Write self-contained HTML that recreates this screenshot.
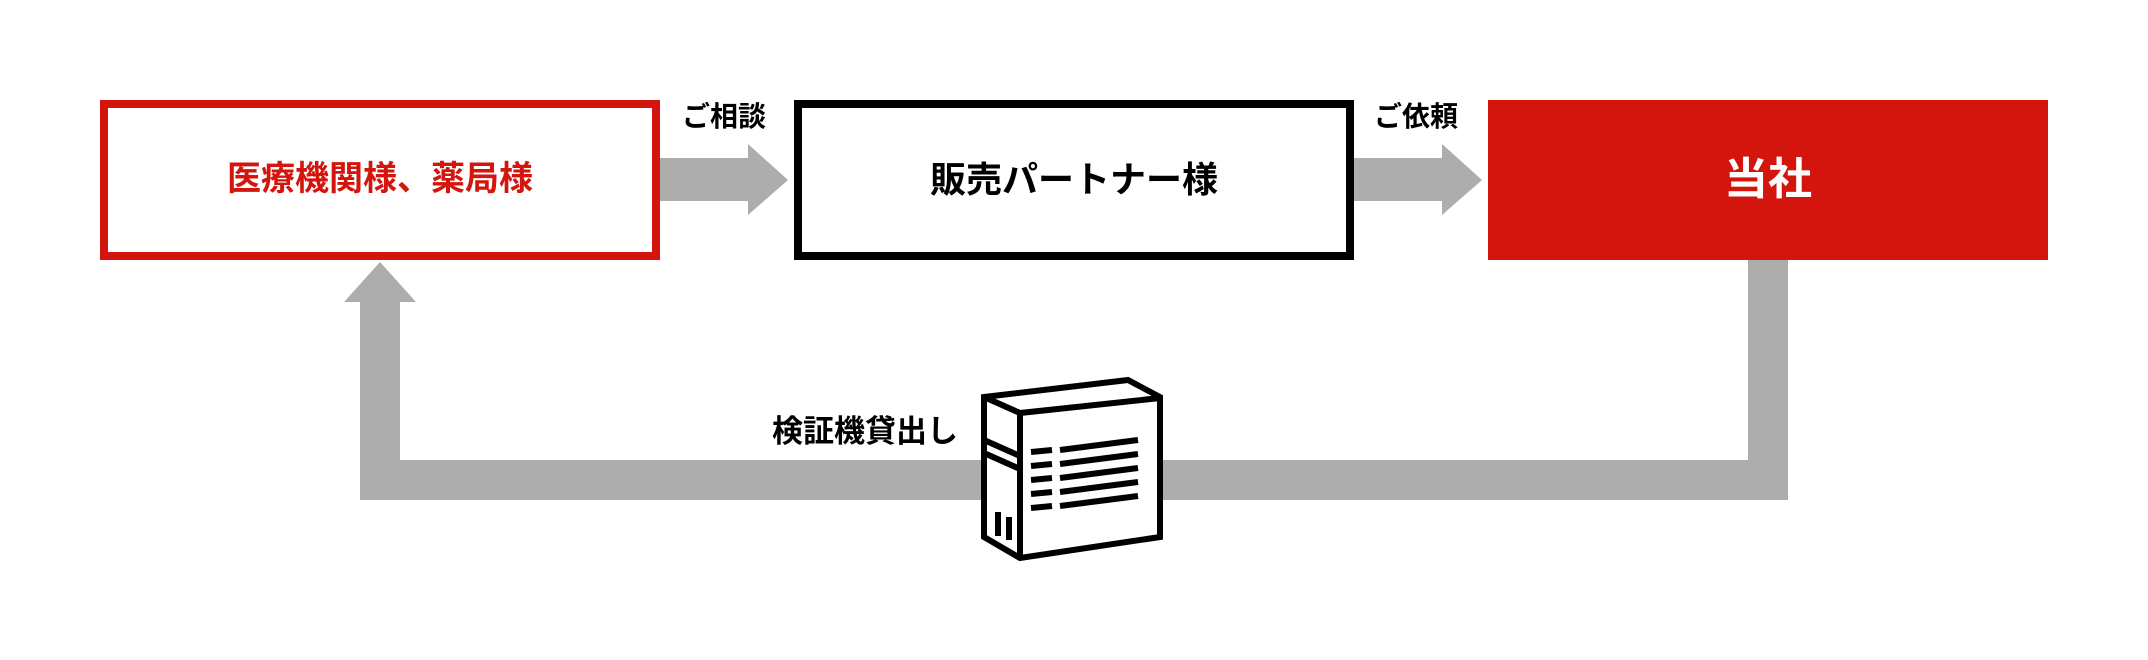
<!DOCTYPE html>
<html><head><meta charset="utf-8"><style>
html,body{margin:0;padding:0;background:#fff;}
body{width:2148px;height:660px;position:relative;overflow:hidden;font-family:"Liberation Sans","Noto Sans CJK JP",sans-serif;font-weight:bold;}
.t{position:absolute;white-space:nowrap;line-height:1;}
</style></head><body>
<svg width="2148" height="660" style="position:absolute;left:0;top:0">
<g fill="#adadad">
<rect x="659" y="158" width="90" height="43"/>
<polygon points="748,144 788,180 748,215"/>
<rect x="1353" y="158" width="90" height="43"/>
<polygon points="1442,144 1482,180 1442,215"/>
<rect x="1748" y="258" width="40" height="242"/>
<rect x="360" y="460" width="1428" height="40"/>
<rect x="360" y="300" width="40" height="200"/>
<polygon points="344,302 380,262 416,302"/>
</g>
<rect x="104" y="104" width="552" height="152" fill="#fff" stroke="#d3150d" stroke-width="8"/>
<rect x="798" y="104" width="552" height="152" fill="#fff" stroke="#000" stroke-width="8"/>
<rect x="1488" y="100" width="560" height="160" fill="#d3150d"/>
<g transform="translate(975,370)" stroke="#000" stroke-width="6" fill="#fff" stroke-linejoin="miter">
<polygon points="9,27 153,10 185,27 185,167 45,188 9,167"/>
<polyline points="9,27 45,43 185,28" fill="none"/>
<line x1="45" y1="43" x2="45" y2="188"/>
<line x1="9" y1="70" x2="45" y2="86"/>
<line x1="9" y1="83" x2="45" y2="99"/>
<g stroke="none" fill="#000">
<rect x="20" y="142" width="6" height="24"/>
<rect x="31" y="147" width="6" height="23"/>
</g>
<g stroke-width="6" fill="none">
<line x1="56" y1="82" x2="77" y2="80"/>
<line x1="56" y1="96" x2="77" y2="94"/>
<line x1="56" y1="110" x2="77" y2="108"/>
<line x1="56" y1="124" x2="77" y2="122"/>
<line x1="56" y1="138" x2="77" y2="136"/>
<line x1="85" y1="80" x2="163" y2="70"/>
<line x1="85" y1="94" x2="163" y2="84"/>
<line x1="85" y1="108" x2="163" y2="98"/>
<line x1="85" y1="122" x2="163" y2="112"/>
<line x1="85" y1="136" x2="163" y2="126"/>
</g>
</g>
</svg>
<div class="t" style="left:210px;top:162px;width:340px;text-align:center;font-size:34px;color:#d3150d;">医療機関様、薬局様</div>
<div class="t" style="left:874px;top:162px;width:400px;text-align:center;font-size:36px;color:#000;">販売パートナー様</div>
<div class="t" style="left:1668px;top:158px;width:200px;text-align:center;font-size:44px;color:#fff;">当社</div>
<div class="t" style="left:682px;top:103px;font-size:28px;color:#000;">ご相談</div>
<div class="t" style="left:1374px;top:103px;font-size:28px;color:#000;">ご依頼</div>
<div class="t" style="left:772px;top:416px;font-size:31px;color:#000;">検証機貸出し</div>
</body></html>
